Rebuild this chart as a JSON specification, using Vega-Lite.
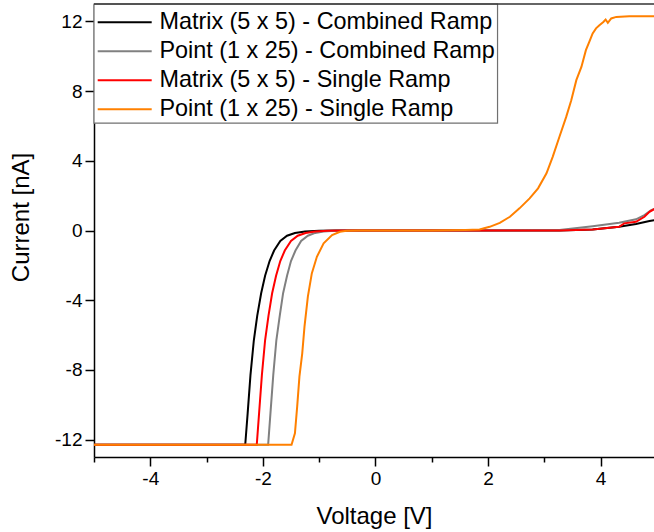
{
  "$schema": "https://vega.github.io/schema/vega-lite/v6.json",
  "width": 560,
  "height": 453,
  "autosize": {"type": "none"},
  "padding": {"left": 94, "top": 4, "right": 0, "bottom": 75},
  "background": "white",
  "config": {
    "view": {"stroke": null},
    "font": "Liberation Sans",
    "axis": {
      "domainColor": "black", "domainWidth": 1.5,
      "tickColor": "black", "tickWidth": 1.5,
      "labelFont": "Liberation Sans", "labelFontSize": 19, "labelColor": "black", "labelPadding": 3,
      "titleFont": "Liberation Sans", "titleFontSize": 24, "titleFontWeight": "normal", "titleColor": "black",
      "grid": false, "zindex": 1
    }
  },
  "layer": [
    {
      "data": {"values": [{}]},
      "mark": {"type": "rect", "fill": "white", "stroke": "#707070", "strokeWidth": 1.2},
      "encoding": {
        "x": {"datum": -5, "type": "quantitative", "title": "Voltage [V]"},
        "x2": {"datum": 2.17},
        "y": {"datum": 13, "type": "quantitative", "title": "Current [nA]"},
        "y2": {"datum": 6.16}
      }
    },
    {
      "data": {"values": [
        {"s": "Matrix (5 x 5) - Combined Ramp", "v": -5, "i": -12.3},
        {"s": "Matrix (5 x 5) - Combined Ramp", "v": -2.313, "i": -12.3},
        {"s": "Matrix (5 x 5) - Combined Ramp", "v": -2.27, "i": -10.5},
        {"s": "Matrix (5 x 5) - Combined Ramp", "v": -2.22, "i": -8.3},
        {"s": "Matrix (5 x 5) - Combined Ramp", "v": -2.16, "i": -6.3},
        {"s": "Matrix (5 x 5) - Combined Ramp", "v": -2.10, "i": -4.9},
        {"s": "Matrix (5 x 5) - Combined Ramp", "v": -2.03, "i": -3.6},
        {"s": "Matrix (5 x 5) - Combined Ramp", "v": -1.96, "i": -2.6},
        {"s": "Matrix (5 x 5) - Combined Ramp", "v": -1.88, "i": -1.75},
        {"s": "Matrix (5 x 5) - Combined Ramp", "v": -1.80, "i": -1.15},
        {"s": "Matrix (5 x 5) - Combined Ramp", "v": -1.69, "i": -0.6},
        {"s": "Matrix (5 x 5) - Combined Ramp", "v": -1.57, "i": -0.3},
        {"s": "Matrix (5 x 5) - Combined Ramp", "v": -1.43, "i": -0.14},
        {"s": "Matrix (5 x 5) - Combined Ramp", "v": -1.25, "i": -0.06},
        {"s": "Matrix (5 x 5) - Combined Ramp", "v": -1.0, "i": -0.02},
        {"s": "Matrix (5 x 5) - Combined Ramp", "v": -0.7, "i": 0},
        {"s": "Matrix (5 x 5) - Combined Ramp", "v": 0, "i": 0},
        {"s": "Matrix (5 x 5) - Combined Ramp", "v": 2, "i": 0},
        {"s": "Matrix (5 x 5) - Combined Ramp", "v": 2.8, "i": 0},
        {"s": "Matrix (5 x 5) - Combined Ramp", "v": 3.27, "i": 0},
        {"s": "Matrix (5 x 5) - Combined Ramp", "v": 3.86, "i": 0.06},
        {"s": "Matrix (5 x 5) - Combined Ramp", "v": 4.33, "i": 0.21},
        {"s": "Matrix (5 x 5) - Combined Ramp", "v": 4.63, "i": 0.37},
        {"s": "Matrix (5 x 5) - Combined Ramp", "v": 4.87, "i": 0.54},
        {"s": "Matrix (5 x 5) - Combined Ramp", "v": 5, "i": 0.62},

        {"s": "Point (1 x 25) - Combined Ramp", "v": -5, "i": -12.3},
        {"s": "Point (1 x 25) - Combined Ramp", "v": -1.906, "i": -12.3},
        {"s": "Point (1 x 25) - Combined Ramp", "v": -1.865, "i": -10.5},
        {"s": "Point (1 x 25) - Combined Ramp", "v": -1.815, "i": -8.3},
        {"s": "Point (1 x 25) - Combined Ramp", "v": -1.76, "i": -6.3},
        {"s": "Point (1 x 25) - Combined Ramp", "v": -1.70, "i": -4.9},
        {"s": "Point (1 x 25) - Combined Ramp", "v": -1.64, "i": -3.6},
        {"s": "Point (1 x 25) - Combined Ramp", "v": -1.57, "i": -2.6},
        {"s": "Point (1 x 25) - Combined Ramp", "v": -1.50, "i": -1.75},
        {"s": "Point (1 x 25) - Combined Ramp", "v": -1.42, "i": -1.15},
        {"s": "Point (1 x 25) - Combined Ramp", "v": -1.32, "i": -0.6},
        {"s": "Point (1 x 25) - Combined Ramp", "v": -1.20, "i": -0.3},
        {"s": "Point (1 x 25) - Combined Ramp", "v": -1.07, "i": -0.14},
        {"s": "Point (1 x 25) - Combined Ramp", "v": -0.92, "i": -0.06},
        {"s": "Point (1 x 25) - Combined Ramp", "v": -0.72, "i": -0.02},
        {"s": "Point (1 x 25) - Combined Ramp", "v": -0.5, "i": 0},
        {"s": "Point (1 x 25) - Combined Ramp", "v": 0, "i": 0},
        {"s": "Point (1 x 25) - Combined Ramp", "v": 2, "i": 0},
        {"s": "Point (1 x 25) - Combined Ramp", "v": 2.8, "i": 0.01},
        {"s": "Point (1 x 25) - Combined Ramp", "v": 3.27, "i": 0.03},
        {"s": "Point (1 x 25) - Combined Ramp", "v": 3.86, "i": 0.25},
        {"s": "Point (1 x 25) - Combined Ramp", "v": 4.33, "i": 0.44},
        {"s": "Point (1 x 25) - Combined Ramp", "v": 4.63, "i": 0.64},
        {"s": "Point (1 x 25) - Combined Ramp", "v": 4.78, "i": 0.88},
        {"s": "Point (1 x 25) - Combined Ramp", "v": 4.90, "i": 1.17},
        {"s": "Point (1 x 25) - Combined Ramp", "v": 5, "i": 1.3},

        {"s": "Matrix (5 x 5) - Single Ramp", "v": -5, "i": -12.3},
        {"s": "Matrix (5 x 5) - Single Ramp", "v": -2.108, "i": -12.3},
        {"s": "Matrix (5 x 5) - Single Ramp", "v": -2.067, "i": -10.5},
        {"s": "Matrix (5 x 5) - Single Ramp", "v": -2.017, "i": -8.3},
        {"s": "Matrix (5 x 5) - Single Ramp", "v": -1.96, "i": -6.3},
        {"s": "Matrix (5 x 5) - Single Ramp", "v": -1.90, "i": -4.9},
        {"s": "Matrix (5 x 5) - Single Ramp", "v": -1.835, "i": -3.6},
        {"s": "Matrix (5 x 5) - Single Ramp", "v": -1.765, "i": -2.6},
        {"s": "Matrix (5 x 5) - Single Ramp", "v": -1.69, "i": -1.75},
        {"s": "Matrix (5 x 5) - Single Ramp", "v": -1.61, "i": -1.15},
        {"s": "Matrix (5 x 5) - Single Ramp", "v": -1.50, "i": -0.6},
        {"s": "Matrix (5 x 5) - Single Ramp", "v": -1.38, "i": -0.3},
        {"s": "Matrix (5 x 5) - Single Ramp", "v": -1.24, "i": -0.14},
        {"s": "Matrix (5 x 5) - Single Ramp", "v": -1.07, "i": -0.06},
        {"s": "Matrix (5 x 5) - Single Ramp", "v": -0.85, "i": -0.02},
        {"s": "Matrix (5 x 5) - Single Ramp", "v": -0.6, "i": 0},
        {"s": "Matrix (5 x 5) - Single Ramp", "v": 0, "i": 0},
        {"s": "Matrix (5 x 5) - Single Ramp", "v": 2, "i": 0},
        {"s": "Matrix (5 x 5) - Single Ramp", "v": 3.27, "i": 0},
        {"s": "Matrix (5 x 5) - Single Ramp", "v": 3.86, "i": 0.06},
        {"s": "Matrix (5 x 5) - Single Ramp", "v": 4.33, "i": 0.21},
        {"s": "Matrix (5 x 5) - Single Ramp", "v": 4.42, "i": 0.41},
        {"s": "Matrix (5 x 5) - Single Ramp", "v": 4.63, "i": 0.5},
        {"s": "Matrix (5 x 5) - Single Ramp", "v": 4.78, "i": 0.79},
        {"s": "Matrix (5 x 5) - Single Ramp", "v": 4.87, "i": 1.07},
        {"s": "Matrix (5 x 5) - Single Ramp", "v": 4.95, "i": 1.22},
        {"s": "Matrix (5 x 5) - Single Ramp", "v": 5, "i": 1.3},

        {"s": "Point (1 x 25) - Single Ramp", "v": -5, "i": -12.3},
        {"s": "Point (1 x 25) - Single Ramp", "v": -1.49, "i": -12.3},
        {"s": "Point (1 x 25) - Single Ramp", "v": -1.43, "i": -11.64},
        {"s": "Point (1 x 25) - Single Ramp", "v": -1.39, "i": -10.11},
        {"s": "Point (1 x 25) - Single Ramp", "v": -1.35, "i": -8.39},
        {"s": "Point (1 x 25) - Single Ramp", "v": -1.30, "i": -7.05},
        {"s": "Point (1 x 25) - Single Ramp", "v": -1.26, "i": -5.52},
        {"s": "Point (1 x 25) - Single Ramp", "v": -1.20, "i": -3.80},
        {"s": "Point (1 x 25) - Single Ramp", "v": -1.13, "i": -2.46},
        {"s": "Point (1 x 25) - Single Ramp", "v": -1.04, "i": -1.51},
        {"s": "Point (1 x 25) - Single Ramp", "v": -0.92, "i": -0.74},
        {"s": "Point (1 x 25) - Single Ramp", "v": -0.77, "i": -0.26},
        {"s": "Point (1 x 25) - Single Ramp", "v": -0.63, "i": -0.07},
        {"s": "Point (1 x 25) - Single Ramp", "v": -0.51, "i": -0.02},
        {"s": "Point (1 x 25) - Single Ramp", "v": -0.3, "i": 0},
        {"s": "Point (1 x 25) - Single Ramp", "v": 0.5, "i": 0},
        {"s": "Point (1 x 25) - Single Ramp", "v": 1.0, "i": 0},
        {"s": "Point (1 x 25) - Single Ramp", "v": 1.3, "i": 0.01},
        {"s": "Point (1 x 25) - Single Ramp", "v": 1.6, "i": 0.03},
        {"s": "Point (1 x 25) - Single Ramp", "v": 1.85, "i": 0.06},
        {"s": "Point (1 x 25) - Single Ramp", "v": 2.03, "i": 0.21},
        {"s": "Point (1 x 25) - Single Ramp", "v": 2.21, "i": 0.44},
        {"s": "Point (1 x 25) - Single Ramp", "v": 2.39, "i": 0.79},
        {"s": "Point (1 x 25) - Single Ramp", "v": 2.56, "i": 1.27},
        {"s": "Point (1 x 25) - Single Ramp", "v": 2.74, "i": 1.84},
        {"s": "Point (1 x 25) - Single Ramp", "v": 2.89, "i": 2.42},
        {"s": "Point (1 x 25) - Single Ramp", "v": 3.04, "i": 3.28},
        {"s": "Point (1 x 25) - Single Ramp", "v": 3.15, "i": 4.23},
        {"s": "Point (1 x 25) - Single Ramp", "v": 3.27, "i": 5.38},
        {"s": "Point (1 x 25) - Single Ramp", "v": 3.39, "i": 6.52},
        {"s": "Point (1 x 25) - Single Ramp", "v": 3.48, "i": 7.48},
        {"s": "Point (1 x 25) - Single Ramp", "v": 3.57, "i": 8.63},
        {"s": "Point (1 x 25) - Single Ramp", "v": 3.66, "i": 9.39},
        {"s": "Point (1 x 25) - Single Ramp", "v": 3.74, "i": 10.35},
        {"s": "Point (1 x 25) - Single Ramp", "v": 3.80, "i": 10.83},
        {"s": "Point (1 x 25) - Single Ramp", "v": 3.86, "i": 11.31},
        {"s": "Point (1 x 25) - Single Ramp", "v": 3.92, "i": 11.60},
        {"s": "Point (1 x 25) - Single Ramp", "v": 3.98, "i": 11.78},
        {"s": "Point (1 x 25) - Single Ramp", "v": 4.05, "i": 11.97},
        {"s": "Point (1 x 25) - Single Ramp", "v": 4.09, "i": 12.11},
        {"s": "Point (1 x 25) - Single Ramp", "v": 4.13, "i": 11.92},
        {"s": "Point (1 x 25) - Single Ramp", "v": 4.19, "i": 12.17},
        {"s": "Point (1 x 25) - Single Ramp", "v": 4.28, "i": 12.26},
        {"s": "Point (1 x 25) - Single Ramp", "v": 4.51, "i": 12.3},
        {"s": "Point (1 x 25) - Single Ramp", "v": 5, "i": 12.3}
      ]},
      "mark": {"type": "line", "strokeWidth": 2, "clip": true},
      "encoding": {
        "x": {
          "field": "v", "type": "quantitative", "title": "Voltage [V]",
          "scale": {"domain": [-5, 4.95], "nice": false, "zero": false},
          "axis": {
            "values": [-5, -4, -3, -2, -1, 0, 1, 2, 3, 4],
            "labelExpr": "datum.value % 2 === 0 ? '' + datum.value : ''",
            "tickSize": {"condition": {"test": "datum.value % 2 === 0", "value": 9}, "value": 5},
            "titlePadding": 16
          }
        },
        "y": {
          "field": "i", "type": "quantitative", "title": "Current [nA]",
          "scale": {"domain": [-13, 13], "nice": false, "zero": false},
          "axis": {
            "values": [-12, -10, -8, -6, -4, -2, 0, 2, 4, 6, 8, 10, 12],
            "labelExpr": "datum.value % 4 === 0 ? '' + datum.value : ''",
            "tickSize": {"condition": {"test": "datum.value % 4 === 0", "value": 9}, "value": 5},
            "titlePadding": 21,
            "titleY": 213
          }
        },
        "color": {
          "field": "s", "type": "nominal",
          "scale": {
            "domain": ["Matrix (5 x 5) - Combined Ramp", "Point (1 x 25) - Combined Ramp", "Matrix (5 x 5) - Single Ramp", "Point (1 x 25) - Single Ramp"],
            "range": ["#000000", "#808080", "#ff0000", "#ff8000"]
          },
          "legend": {
            "orient": "none", "legendX": 19, "legendY": 6.5,
            "title": null, "padding": 0,
            "symbolType": "M-2.7,0H2.7", "symbolSize": 400, "symbolStrokeWidth": 2,
            "labelFont": "Liberation Sans", "labelFontSize": 23.4, "labelColor": "black",
            "labelOffset": 23, "rowPadding": 4, "labelLimit": 500
          }
        }
      }
    },
    {
      "data": {"values": [{}]},
      "mark": {"type": "rule", "color": "#333333", "strokeWidth": 1.5},
      "encoding": {
        "y": {"datum": 13, "type": "quantitative", "title": "Current [nA]"}
      }
    }
  ]
}
